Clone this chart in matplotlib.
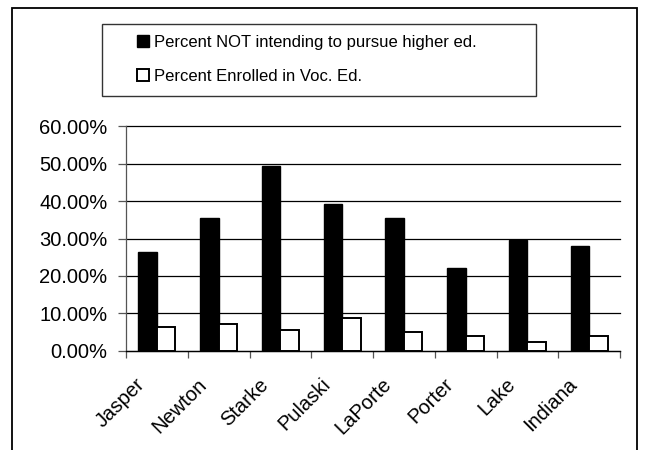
import matplotlib
matplotlib.use("Agg")
import matplotlib.pyplot as plt
import numpy as np
from matplotlib.ticker import PercentFormatter, FixedLocator
from matplotlib.patches import Rectangle
from matplotlib.transforms import ScaledTranslation

plt.rcParams['font.family'] = ['Liberation Sans', 'DejaVu Sans']

categories = ["Jasper", "Newton", "Starke", "Pulaski", "LaPorte", "Porter", "Lake", "Indiana"]
not_pursue = [0.263, 0.355, 0.495, 0.392, 0.355, 0.220, 0.295, 0.280]
voc_ed = [0.064, 0.070, 0.054, 0.086, 0.049, 0.038, 0.022, 0.038]
series_labels = ["Percent NOT intending to pursue higher ed.", "Percent Enrolled in Voc. Ed."]

W, H = 645, 450
fig = plt.figure(figsize=(W / 100, H / 100), dpi=100)
ax = fig.add_axes([126 / W, 1 - 350.5 / H, (620 - 126) / W, (350.5 - 126.5) / H])

x = np.arange(len(categories))
bw = 0.3
b1 = ax.bar(x - bw / 2, not_pursue, bw, color="black", edgecolor="black", linewidth=1.0, label=series_labels[0], zorder=3)
b2 = ax.bar(x + bw / 2, voc_ed, bw, color="white", edgecolor="black", linewidth=1.4, label=series_labels[1], zorder=3)

ax.set_xlim(-0.5, len(categories) - 0.5)
ax.set_ylim(0, 0.6)
ax.set_yticks(np.arange(0, 0.61, 0.1))
ax.yaxis.set_major_formatter(PercentFormatter(1.0, decimals=2))
ax.grid(axis="y", color="black", linewidth=0.9, zorder=0)
ax.set_axisbelow(True)
for gl in ax.get_ygridlines():
    gl.set_clip_on(False)

ax.set_xticks(x)
ax.set_xticklabels(categories, rotation=45, ha="right", va="center", rotation_mode="anchor", fontsize=14.5)
ax.tick_params(axis="x", length=0, pad=0)
ax.xaxis.set_minor_locator(FixedLocator(np.arange(-0.5, len(categories), 1.0)))
ax.tick_params(axis="x", which="minor", length=5, width=0.9, direction="out", color="#555555")
ax.tick_params(axis="y", length=6, width=0.9, direction="out", color="#555555", labelsize=14.5, pad=7.4)

off = ScaledTranslation(-15 / 100, -31 / 100, fig.dpi_scale_trans)
for lab in ax.get_xticklabels():
    lab.set_transform(lab.get_transform() + off)

for s in ["top", "right"]:
    ax.spines[s].set_visible(False)
ax.spines["left"].set_color("#555555")
ax.spines["bottom"].set_color("black")
ax.spines["left"].set_linewidth(0.9)
ax.spines["bottom"].set_linewidth(0.9)

leg = fig.legend(handles=[b1, b2], labels=series_labels,
                 bbox_to_anchor=(137 / W, 1 - 35 / H),
                 loc="upper left", ncol=1, fontsize=12,
                 frameon=False,
                 handlelength=0.72, handleheight=0.72, handletextpad=0.3,
                 labelspacing=1.13, borderpad=0, borderaxespad=0)

legframe = Rectangle((102 / W, 1 - 96 / H), (536 - 102) / W, (96 - 24) / H, transform=fig.transFigure,
                     fill=False, edgecolor="#333333", linewidth=1.0)
fig.patches.append(legframe)

frame = Rectangle((12 / W, -0.05), (637 - 12) / W, 1 - 7.5 / H + 0.05, transform=fig.transFigure,
                  fill=False, edgecolor="black", linewidth=1.3, clip_on=False)
fig.patches.append(frame)

fig.savefig("out.png", dpi=100)
